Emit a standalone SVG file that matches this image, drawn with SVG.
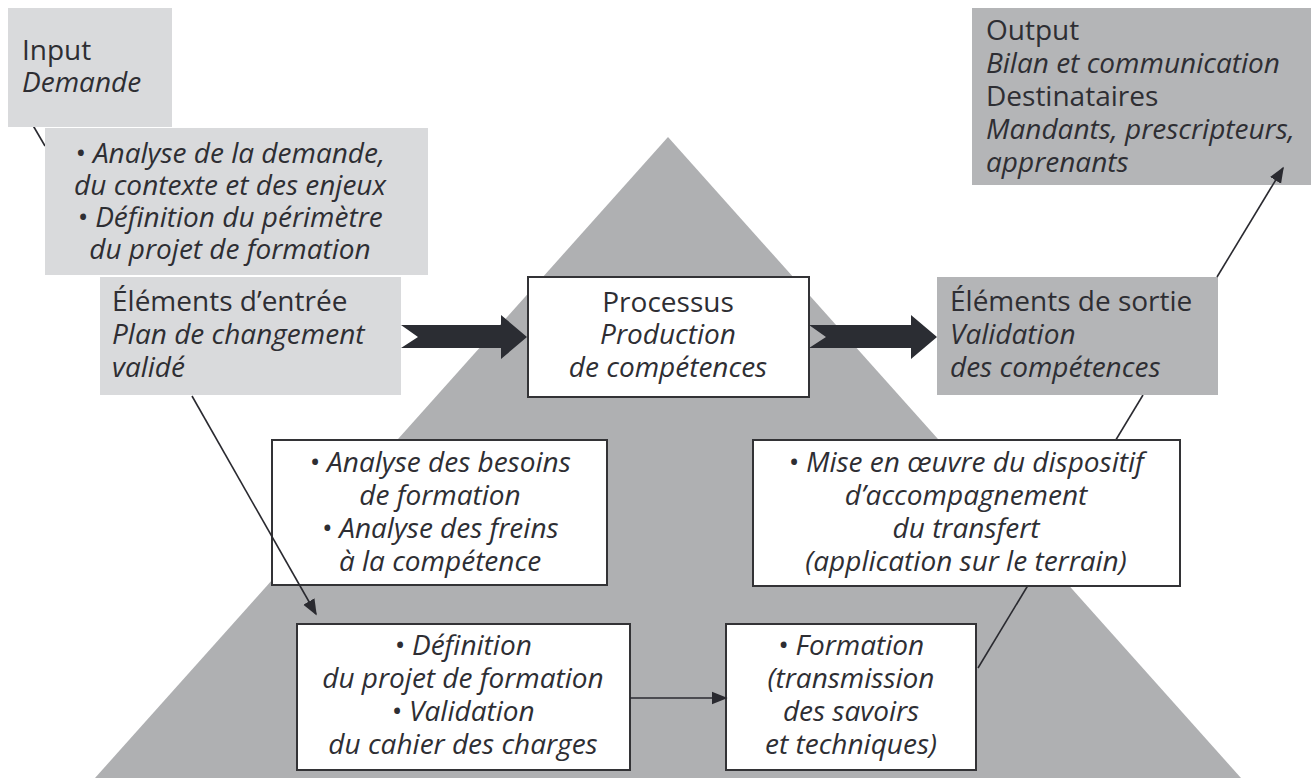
<svg xmlns="http://www.w3.org/2000/svg" width="1313" height="778" viewBox="0 0 1313 778">
<defs>
<style>
text{font-family:"Open Sans","DejaVu Sans",sans-serif;font-size:28px;fill:#2e2e33}
.i{font-style:italic}
.c{text-anchor:middle}
.lg{fill:#d9dadc}
.dg{fill:#b4b5b7}
.wb{fill:#ffffff;stroke:#333336;stroke-width:2}
.ln{stroke:#2a2a30;stroke-width:1.6;fill:none}
.big{fill:#2b2d33}
</style>
<marker id="ah2" viewBox="0 0 10 10" refX="9" refY="5" markerWidth="16" markerHeight="16" markerUnits="userSpaceOnUse" orient="auto">
<path d="M0,1 L10,5 L0,9 Z" fill="#2a2a30"/>
</marker>
</defs>
<rect width="1313" height="778" fill="#ffffff"/>
<polygon id="pyramid" points="668,137 95,778 1241,778" fill="#afb0b2"/>
<g id="connectors-back">
<line class="ln" x1="31" y1="122" x2="45" y2="146"/>
<line class="ln" x1="978" y1="668" x2="1143" y2="395"/>
</g>
<g id="input">
<rect class="lg" x="8" y="8" width="164" height="119"/>
<text x="22" y="60">Input</text>
<text class="i" x="22" y="92">Demande</text>
</g>
<g id="analyse-demande">
<rect class="lg" x="45" y="128" width="383" height="147"/>
<text class="i c" x="230" y="163">• Analyse de la demande,</text>
<text class="i c" x="230" y="195">du contexte et des enjeux</text>
<text class="i c" x="230" y="227">• Définition du périmètre</text>
<text class="i c" x="230" y="259">du projet de formation</text>
</g>
<g id="elements-entree">
<rect class="lg" x="100" y="277" width="301" height="118"/>
<text x="112" y="311">Éléments d’entrée</text>
<text class="i" x="112" y="344">Plan de changement</text>
<text class="i" x="112" y="377">validé</text>
</g>
<g id="processus">
<rect class="wb" x="528" y="277" width="281" height="120"/>
<text class="c" x="668" y="312">Processus</text>
<text class="i c" x="668" y="344">Production</text>
<text class="i c" x="668" y="377">de compétences</text>
</g>
<g id="elements-sortie">
<rect class="dg" x="937" y="277" width="281" height="118"/>
<text x="950" y="311">Éléments de sortie</text>
<text class="i" x="950" y="344">Validation</text>
<text class="i" x="950" y="377">des compétences</text>
</g>
<g id="output">
<rect class="dg" x="972" y="8" width="339" height="177"/>
<text x="986" y="40">Output</text>
<text class="i" x="986" y="73">Bilan et communication</text>
<text x="986" y="106">Destinataires</text>
<text class="i" x="986" y="139">Mandants, prescripteurs,</text>
<text class="i" x="986" y="172">apprenants</text>
</g>
<g id="analyse-besoins">
<rect class="wb" x="272" y="440" width="335" height="145"/>
<text class="i c" x="440" y="472">• Analyse des besoins</text>
<text class="i c" x="440" y="505">de formation</text>
<text class="i c" x="440" y="538">• Analyse des freins</text>
<text class="i c" x="440" y="571">à la compétence</text>
</g>
<g id="mise-en-oeuvre">
<rect class="wb" x="753" y="440" width="427" height="146"/>
<text class="i c" x="966" y="472">• Mise en œuvre du dispositif</text>
<text class="i c" x="966" y="505">d’accompagnement</text>
<text class="i c" x="966" y="538">du transfert</text>
<text class="i c" x="966" y="571">(application sur le terrain)</text>
</g>
<g id="definition">
<rect class="wb" x="297" y="624" width="333" height="146"/>
<text class="i c" x="463" y="655">• Définition</text>
<text class="i c" x="463" y="688">du projet de formation</text>
<text class="i c" x="463" y="721">• Validation</text>
<text class="i c" x="463" y="754">du cahier des charges</text>
</g>
<g id="formation">
<rect class="wb" x="726" y="624" width="250" height="146"/>
<text class="i c" x="851" y="655">• Formation</text>
<text class="i c" x="851" y="688">(transmission</text>
<text class="i c" x="851" y="721">des savoirs</text>
<text class="i c" x="851" y="754">et techniques)</text>
</g>
<g id="connectors">
<path class="big" d="M401,325 L501,325 L501,315 L527,337 L501,359 L501,348 L401,348 L418,337 Z"/>
<path class="big" d="M809,325 L911,325 L911,315 L937,337 L911,359 L911,348 L809,348 L826,337 Z"/>
<line class="ln" x1="1217" y1="277" x2="1283" y2="168" marker-end="url(#ah2)"/>
<line class="ln" x1="192" y1="396" x2="316" y2="614" marker-end="url(#ah2)"/>
<line class="ln" x1="630" y1="698" x2="726" y2="698" marker-end="url(#ah2)"/>
</g>
</svg>
